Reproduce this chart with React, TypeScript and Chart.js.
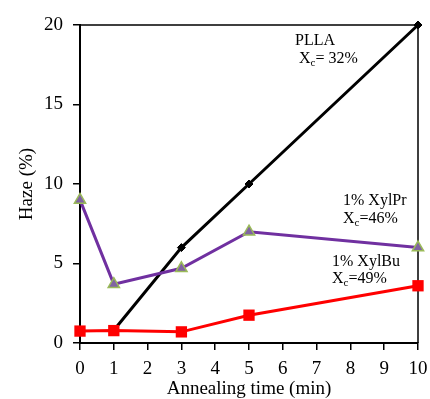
import React, { useEffect, useRef } from "react";
import { Chart, registerables } from "chart.js";

Chart.register(...registerables);

const xTicks = [0, 1, 2, 3, 4, 5, 6, 7, 8, 9, 10];
const yTicks = [0, 5, 10, 15, 20];

const pllaX = [1, 3, 5, 10];
const pllaY = [0.8, 6, 10, 20];

const xylPrX = [0, 1, 3, 5, 10];
const xylPrY = [9.0, 3.7, 4.7, 7.0, 6.0];

const xylBuX = [0, 1, 3, 5, 10];
const xylBuY = [0.75, 0.78, 0.7, 1.75, 3.6];

const FONT = "'Liberation Serif', 'Times New Roman', serif";

const labelsPlugin = {
  id: "annotLabels",
  beforeDatasetsDraw(chart: any) {
    const { ctx, chartArea } = chart;
    ctx.save();
    ctx.strokeStyle = "#000";
    ctx.lineWidth = 1.5;
    ctx.beginPath();
    ctx.moveTo(chartArea.left, chartArea.top);
    ctx.lineTo(chartArea.right, chartArea.top);
    ctx.lineTo(chartArea.right, chartArea.bottom);
    ctx.stroke();
    ctx.restore();
  },
  afterDatasetsDraw(chart: any) {
    const { ctx } = chart;
    ctx.save();
    ctx.fillStyle = "#000";
    ctx.textBaseline = "alphabetic";
    ctx.textAlign = "left";
    const big = `16px ${FONT}`;
    const small = `11px ${FONT}`;
    const line1 = (t: string, x: number, y: number) => {
      ctx.font = big;
      ctx.fillText(t, x, y);
    };
    const xc = (val: string, x: number, y: number) => {
      ctx.font = big;
      ctx.fillText("X", x, y);
      const w = ctx.measureText("X").width;
      ctx.font = small;
      ctx.fillText("c", x + w, y + 3);
      const w2 = ctx.measureText("c").width;
      ctx.font = big;
      ctx.fillText(val, x + w + w2, y);
    };
    line1("PLLA", 295, 45);
    xc("= 32%", 299, 63);
    line1("1% XylPr", 343, 205);
    xc("=46%", 343, 223);
    line1("1% XylBu", 332, 266);
    xc("=49%", 332, 283);
    ctx.restore();
  },
};

export default function App() {
  const ref = useRef<HTMLCanvasElement>(null);
  useEffect(() => {
    if (!ref.current) return;
    const chart = new Chart(ref.current, {
      type: "line",
      data: {
        datasets: [
          {
            label: "1% XylBu",
            data: xylBuX.map((x, i) => ({ x, y: xylBuY[i] })),
            borderColor: "#FF0000",
            backgroundColor: "#FF0000",
            borderWidth: 3,
            pointStyle: "rect",
            pointRadius: 8,
            pointBorderWidth: 0,
            pointBackgroundColor: "#FF0000",
            clip: false,
            order: 0,
          },
          {
            label: "1% XylPr",
            data: xylPrX.map((x, i) => ({ x, y: xylPrY[i] })),
            borderColor: "#7030A0",
            backgroundColor: "#8064A2",
            borderWidth: 3,
            pointStyle: "triangle",
            pointRadius: 6.5,
            pointBorderWidth: 1.5,
            pointBorderColor: "#9BBB59",
            pointBackgroundColor: "#8064A2",
            clip: false,
            order: 1,
          },
          {
            label: "PLLA",
            data: pllaX.map((x, i) => ({ x, y: pllaY[i] })),
            borderColor: "#000000",
            backgroundColor: "#000000",
            borderWidth: 3,
            pointStyle: "rectRot",
            pointRadius: 4,
            pointBorderWidth: 1,
            pointBackgroundColor: "#000000",
            clip: false,
            order: 2,
          },
        ],
      },
      options: {
        responsive: false,
        animation: false,
        devicePixelRatio: 1,
        layout: { padding: { left: 0, top: 25, right: 12, bottom: 0 } },
        plugins: { legend: { display: false }, tooltip: { enabled: false } },
        scales: {
          x: {
            type: "linear",
            min: 0,
            max: 10,
            afterFit: (s: any) => {
              s.height = 56;
              s.paddingLeft = 0;
              s.paddingRight = 0;
            },
            afterBuildTicks: (s: any) => {
              s.ticks = xTicks.map((v) => ({ value: v }));
            },
            border: { display: true, color: "#000", width: 2 },
            grid: { display: true, drawOnChartArea: false, drawTicks: true, tickLength: 7, color: "#000", lineWidth: 1.5 },
            ticks: { color: "#000", font: { family: FONT, size: 19 }, padding: 8, maxRotation: 0, autoSkip: false },
            title: {
              display: true,
              text: "Annealing time (min)",
              color: "#000",
              font: { family: FONT, size: 19, lineHeight: 1 },
              padding: 0,
            },
          },
          y: {
            type: "linear",
            min: 0,
            max: 20,
            afterFit: (s: any) => {
              s.width = 80;
              s.paddingTop = 0;
              s.paddingBottom = 0;
            },
            afterBuildTicks: (s: any) => {
              s.ticks = yTicks.map((v) => ({ value: v }));
            },
            border: { display: true, color: "#000", width: 2 },
            grid: { display: true, drawOnChartArea: false, drawTicks: true, tickLength: 7, color: "#000", lineWidth: 1.5 },
            ticks: { color: "#000", font: { family: FONT, size: 19 }, padding: 10 },
            title: {
              display: true,
              text: "Haze (%)",
              color: "#000",
              font: { family: FONT, size: 19, lineHeight: 1 },
              padding: { top: 17.5, bottom: 0 },
            },
          },
        },
      },
      plugins: [labelsPlugin],
    });
    return () => chart.destroy();
  }, []);
  return (
    <div style={{ position: "fixed", left: 0, top: 0, width: 430, height: 399, background: "#fff" }}>
      <canvas ref={ref} width={430} height={399} />
    </div>
  );
}
